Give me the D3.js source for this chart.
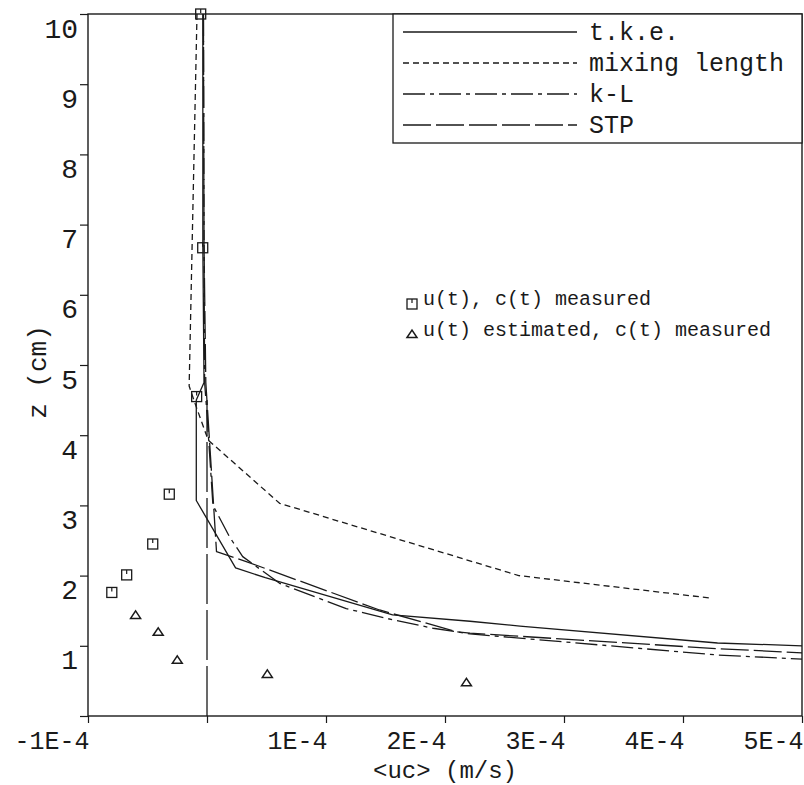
<!DOCTYPE html>
<html><head><meta charset="utf-8">
<script src="https://cdn.jsdelivr.net/npm/d3@7"></script>
<style>body{margin:0;background:#fff}svg{display:block}</style>
</head><body><svg id="c" width="804" height="785"></svg>
<script>
// ---- data (u in m/s, z in cm) ----
const xTicks = [-1e-4, 0, 1e-4, 2e-4, 3e-4, 4e-4, 5e-4];
const xTickLabels = ["-1E-4", "", "1E-4", "2E-4", "3E-4", "4E-4", "5E-4"];
const yTicks = [0, 1, 2, 3, 4, 5, 6, 7, 8, 9, 10];
const yTickLabels = ["", "1", "2", "3", "4", "5", "6", "7", "8", "9", "10"];
const seriesNames = ["t.k.e.", "mixing length", "k-L", "STP"];

const tkeU = [-0.035e-4, -0.035e-4, -0.025e-4, -0.09e-4, -0.09e-4, 0.24e-4, 0.49e-4, 1.56e-4, 2.21e-4, 2.63e-4, 4.29e-4, 5.0e-4];
const tkeZ = [10, 6.7, 4.75, 4.5, 3.07, 2.11, 1.97, 1.44, 1.35, 1.28, 1.04, 1.0];

const mixU = [-0.084e-4, -0.15e-4, -0.10e-4, 0.01e-4, 0.61e-4, 2.62e-4, 4.23e-4];
const mixZ = [10, 4.7, 4.45, 3.93, 3.03, 2.0, 1.68];

const klU = [-0.03e-4, -0.025e-4, -0.02e-4, 0.0, 0.05e-4, 0.19e-4, 0.30e-4, 0.61e-4, 1.17e-4, 1.56e-4, 1.90e-4, 2.21e-4, 4.28e-4, 5.0e-4];
const klZ = [10, 6.7, 4.75, 4.3, 3.0, 2.55, 2.27, 1.89, 1.53, 1.37, 1.25, 1.17, 0.87, 0.81];

const stpU = [-0.03e-4, -0.025e-4, -0.01e-4, 0.02e-4, 0.08e-4, 0.33e-4, 1.45e-4, 2.10e-4, 2.21e-4, 4.28e-4, 5.0e-4];
const stpZ = [10, 6.7, 4.75, 3.95, 2.34, 2.20, 1.51, 1.20, 1.18, 0.96, 0.90];

const zeroLineU = [0, 0];
const zeroLineZ = [0, 4.5];

const measuredU = [-0.053e-4, -0.036e-4, -0.087e-4, -0.317e-4, -0.456e-4, -0.675e-4, -0.80e-4];
const measuredZ = [10, 6.67, 4.55, 3.16, 2.45, 2.01, 1.76];

const estimatedU = [-0.60e-4, -0.41e-4, -0.25e-4, 0.507e-4, 2.18e-4];
const estimatedZ = [1.44, 1.20, 0.80, 0.60, 0.48];

const noteLabels = ["u(t), c(t) measured", "u(t) estimated, c(t) measured"];
const axisTitles = ["<uc> (m/s)", "z (cm)"];

// ---- drawing ----
const svg = d3.select("#c");
const ink = "#1a1a1a";
const FONT = "'Liberation Mono', 'Courier New', monospace";
const x = d3.scaleLinear().domain([-1e-4, 5e-4]).range([88, 802]);
const y = d3.scaleLinear().domain([0, 10]).range([716, 14]);

svg.append("rect").attr("width", 804).attr("height", 785).attr("fill", "#fff");

// frame
svg.append("rect").attr("x", x(-1e-4)).attr("y", y(10))
  .attr("width", x(5e-4) - x(-1e-4)).attr("height", y(0) - y(10))
  .attr("fill", "none").attr("stroke", ink).attr("stroke-width", 1.4);

// x axis
const xAxis = d3.axisBottom(x).tickValues(xTicks).tickSize(7)
  .tickFormat((d, i) => xTickLabels[i]);
const gx = svg.append("g").attr("transform", `translate(0,${y(0)})`).call(xAxis);
gx.select(".domain").remove();
gx.selectAll(".tick line").attr("stroke", ink).attr("stroke-width", 1.2);
gx.selectAll(".tick text").attr("font-family", FONT).attr("font-size", 25)
  .attr("fill", ink).attr("text-anchor", "end").attr("x", 1).attr("y", 0).attr("dy", 33);

// y axis
const yAxis = d3.axisLeft(y).tickValues(yTicks).tickSize(8)
  .tickFormat((d, i) => yTickLabels[i]);
const gy = svg.append("g").attr("transform", `translate(${x(-1e-4)},0)`).call(yAxis);
gy.select(".domain").remove();
gy.selectAll(".tick line").attr("stroke", ink).attr("stroke-width", 1.2);
gy.selectAll(".tick text").attr("font-family", FONT).attr("font-size", 28)
  .attr("fill", ink).attr("text-anchor", "end").attr("x", -10).attr("dy", 23);

// axis titles
svg.append("text").attr("x", (x(-1e-4) + x(5e-4)) / 2).attr("y", 778)
  .attr("text-anchor", "middle").attr("font-family", FONT).attr("font-size", 24)
  .attr("fill", ink).text(axisTitles[0]);
svg.append("text").attr("transform", `translate(46,${y(4.9)}) rotate(-90)`)
  .attr("text-anchor", "middle").attr("font-family", FONT).attr("font-size", 26)
  .attr("fill", ink).text(axisTitles[1]);

// curves
const line = d3.line().x(d => x(d[0])).y(d => y(d[1]));
const zip = (a, b) => a.map((v, i) => [v, b[i]]);
const series = [
  {u: tkeU, z: tkeZ, dash: null},
  {u: mixU, z: mixZ, dash: "6,4"},
  {u: klU, z: klZ, dash: "22,5,4,5"},
  {u: stpU, z: stpZ, dash: "28,5"}
];
svg.append("path").datum(zip(zeroLineU, zeroLineZ)).attr("d", line)
  .attr("fill", "none").attr("stroke", ink).attr("stroke-width", 1.3)
  .attr("stroke-dasharray", "50,6");
series.forEach(s => {
  svg.append("path").datum(zip(s.u, s.z)).attr("d", line)
    .attr("fill", "none").attr("stroke", ink).attr("stroke-width", 1.3)
    .attr("stroke-linejoin", "round")
    .attr("stroke-dasharray", s.dash);
});

// markers
function square(g, cx, cy) {
  g.append("rect").attr("x", cx - 5).attr("y", cy - 5).attr("width", 10).attr("height", 10)
    .attr("fill", "none").attr("stroke", ink).attr("stroke-width", 1.3);
  g.append("line").attr("x1", cx).attr("x2", cx).attr("y1", cy - 5).attr("y2", cy - 1)
    .attr("stroke", ink).attr("stroke-width", 1.2);
}
function tri(g, cx, cy) {
  g.append("path").attr("d", `M${cx - 5},${cy + 3.5}L${cx},${cy - 4}L${cx + 5},${cy + 3.5}Z`)
    .attr("fill", "none").attr("stroke", ink).attr("stroke-width", 1.5);
}
const gm = svg.append("g");
measuredU.forEach((u, i) => square(gm, x(u), y(measuredZ[i])));
estimatedU.forEach((u, i) => tri(gm, x(u), y(estimatedZ[i])));

// notes
square(gm, 412, 304);
tri(gm, 412, 334);
svg.append("text").attr("x", 423).attr("y", 305).attr("font-family", FONT).attr("font-size", 20)
  .attr("fill", ink).text(noteLabels[0]);
svg.append("text").attr("x", 423).attr("y", 336).attr("font-family", FONT).attr("font-size", 20)
  .attr("fill", ink).text(noteLabels[1]);

// legend
const lg = svg.append("g");
lg.append("rect").attr("x", 393).attr("y", y(10)).attr("width", x(5e-4) - 393).attr("height", 143 - y(10))
  .attr("fill", "#fff").attr("stroke", ink).attr("stroke-width", 1.3);
seriesNames.forEach((name, i) => {
  const ly = 32 + i * 31;
  lg.append("line").attr("x1", 403).attr("x2", 577).attr("y1", ly).attr("y2", ly)
    .attr("stroke", ink).attr("stroke-width", 1.3).attr("stroke-dasharray", series[i].dash);
  lg.append("text").attr("x", 589).attr("y", ly + 8).attr("font-family", FONT)
    .attr("font-size", 25).attr("fill", ink).text(name);
});
</script>
</body></html>
